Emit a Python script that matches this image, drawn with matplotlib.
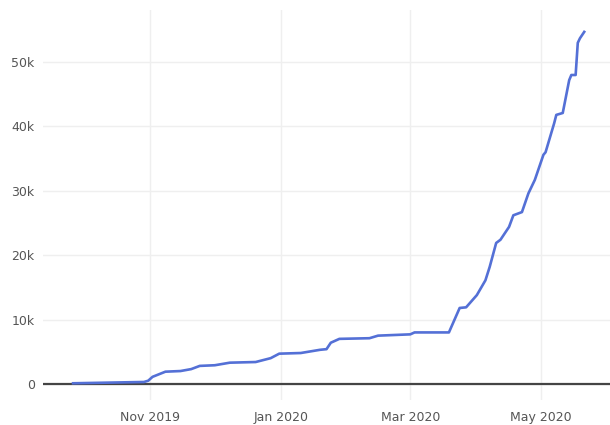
import numpy as np
import pandas as pd
import matplotlib
matplotlib.use('Agg')
import matplotlib.pyplot as plt
import matplotlib.dates as mdates
from matplotlib.ticker import FuncFormatter

''' Data (read off the reference) '''
dates = pd.to_datetime([
    '2019-09-26', '2019-10-29', '2019-10-31', '2019-11-02', '2019-11-08',
    '2019-11-15', '2019-11-20', '2019-11-24', '2019-12-01', '2019-12-08',
    '2019-12-20', '2019-12-27', '2019-12-31', '2020-01-10', '2020-01-19',
    '2020-01-22', '2020-01-24', '2020-01-28', '2020-02-11', '2020-02-15',
    '2020-03-01', '2020-03-03', '2020-03-19', '2020-03-24', '2020-03-27',
    '2020-04-01', '2020-04-05', '2020-04-07', '2020-04-10', '2020-04-12',
    '2020-04-16', '2020-04-18', '2020-04-22', '2020-04-25', '2020-04-28',
    '2020-05-02', '2020-05-03', '2020-05-07', '2020-05-08', '2020-05-11',
    '2020-05-14', '2020-05-15', '2020-05-17', '2020-05-18', '2020-05-19',
    '2020-05-21',
])
totals = [
    100, 300, 500, 1100, 1900,
    2000, 2300, 2800, 2900, 3300,
    3400, 4000, 4700, 4800, 5300,
    5400, 6400, 7000, 7100, 7500,
    7700, 8000, 8000, 11800, 11900,
    13800, 16100, 18200, 21900, 22400,
    24400, 26200, 26700, 29600, 31700,
    35600, 36000, 40500, 41800, 42100,
    47200, 48000, 48000, 53000, 53700,
    54700,
]

y_ticks = [0, 10000, 20000, 30000, 40000, 50000]
x_ticks = pd.to_datetime(['2019-11-01', '2020-01-01', '2020-03-01', '2020-05-01'])

''' Graphing '''
fig = plt.figure(figsize=(6.1, 4.25), dpi=100)
ax = fig.add_axes([43 / 610, 25 / 425, 567 / 610, 390 / 425])

ax.plot(dates, totals, color='#5470d6', linewidth=1.9, zorder=3)
ax.axhline(0, color='#444444', linewidth=1.6, zorder=2)

ax.set_xlim(pd.Timestamp('2019-09-12'), pd.Timestamp('2020-06-02'))
ax.set_ylim(-2500, 58100)

ax.set_xticks(x_ticks)
ax.xaxis.set_major_formatter(mdates.DateFormatter('%b %Y'))
ax.set_yticks(y_ticks)
ax.yaxis.set_major_formatter(FuncFormatter(lambda v, p: '0' if v == 0 else f'{int(v / 1000)}k'))

ax.grid(True, color='#efefef', linewidth=1)
ax.set_axisbelow(True)
for s in ax.spines.values():
    s.set_visible(False)
ax.tick_params(length=0, labelsize=9, labelcolor='#555555', pad=6)
ax.tick_params(axis='x', pad=8)

fig.savefig('out.png', dpi=100)
